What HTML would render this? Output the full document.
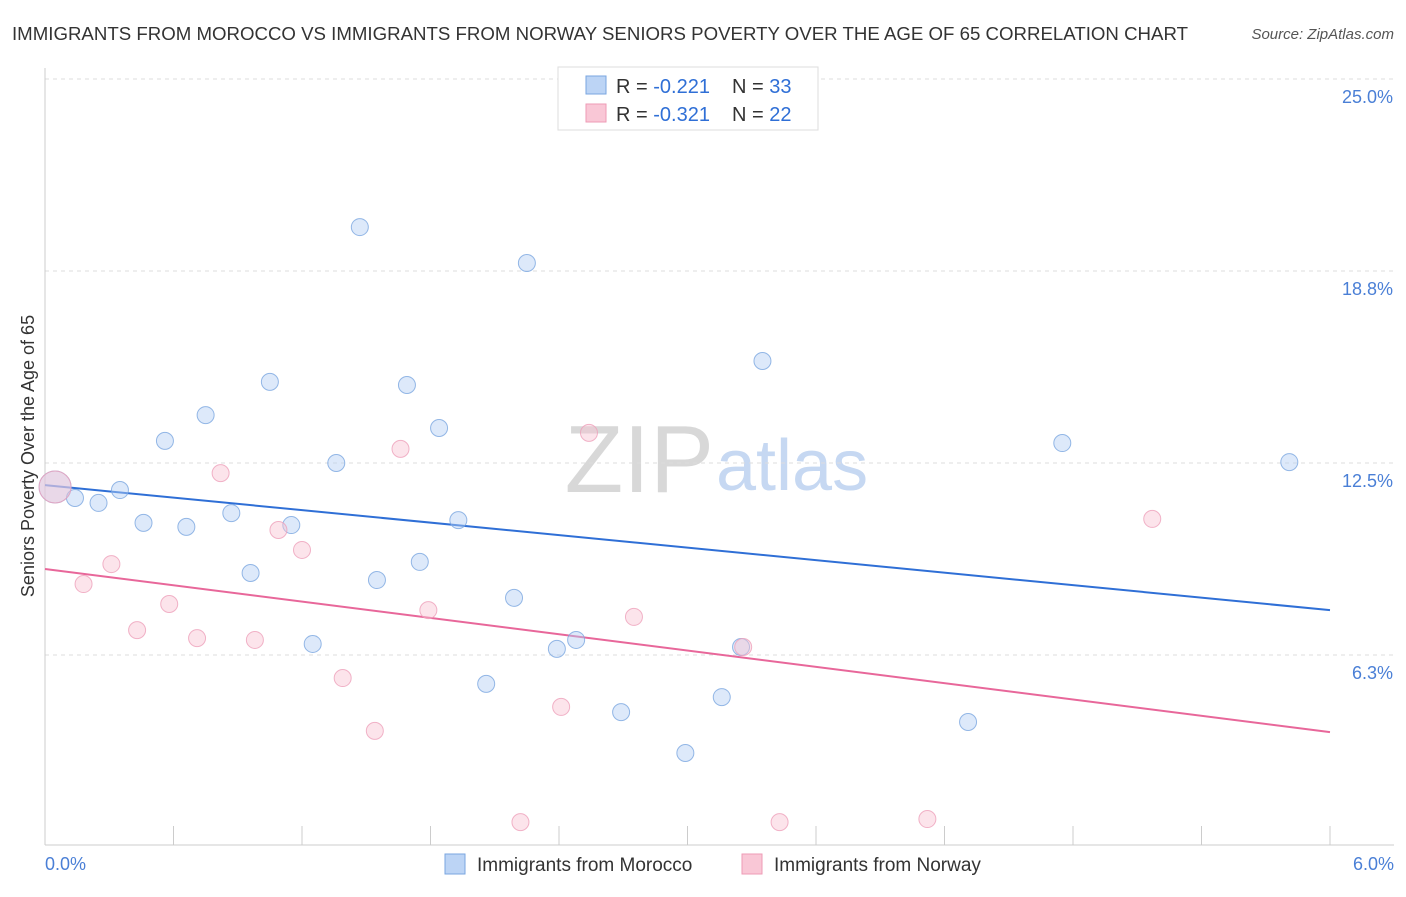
<!DOCTYPE html>
<html><head><meta charset="utf-8"><style>
body{margin:0;background:#fff;font-family:"Liberation Sans",sans-serif;}
svg text{font-family:"Liberation Sans",sans-serif;}
</style></head><body>
<svg width="1406" height="892" viewBox="0 0 1406 892">
<text x="12" y="40" font-size="18" fill="#333" textLength="1176" lengthAdjust="spacingAndGlyphs">IMMIGRANTS FROM MOROCCO VS IMMIGRANTS FROM NORWAY SENIORS POVERTY OVER THE AGE OF 65 CORRELATION CHART</text>
<text x="1394" y="39" font-size="15" fill="#555" font-style="italic" text-anchor="end">Source: ZipAtlas.com</text>
<text x="714" y="492" font-size="96" fill="#d8d8d8" text-anchor="end" font-family="Liberation Serif">ZIP</text>
<text x="716" y="490" font-size="72" fill="#c6d8f2">atlas</text>
<g id="grid"></g><g id="axes"></g><g id="lines"></g><g id="pts"></g>
<text transform="translate(34,456) rotate(-90)" font-size="18" fill="#333" text-anchor="middle">Seniors Poverty Over the Age of 65</text>
<text x="45" y="870" font-size="18" fill="#4a7fd6">0.0%</text>
<text x="1394" y="870" font-size="18" fill="#4a7fd6" text-anchor="end">6.0%</text>
<g>
<rect x="558" y="67" width="260" height="63" fill="#fff" stroke="#ddd"/>
<rect x="586" y="76" width="20" height="18" fill="#bcd4f5" stroke="#7aa6e0"/>
<rect x="586" y="104" width="20" height="18" fill="#f9c7d6" stroke="#ee9bb6"/>
<text x="616" y="93" font-size="20" fill="#333">R = <tspan fill="#2f6fd6">-0.221</tspan><tspan x="732">N = </tspan><tspan fill="#2f6fd6">33</tspan></text>
<text x="616" y="121" font-size="20" fill="#333">R = <tspan fill="#2f6fd6">-0.321</tspan><tspan x="732">N = </tspan><tspan fill="#2f6fd6">22</tspan></text>
</g>
<g><rect x="445" y="854" width="20" height="20" fill="#bcd4f5" stroke="#7aa6e0"/><text x="477" y="871" font-size="19" fill="#333">Immigrants from Morocco</text></g>
<g><rect x="742" y="854" width="20" height="20" fill="#f9c7d6" stroke="#ee9bb6"/><text x="774" y="871" font-size="19" fill="#333">Immigrants from Norway</text></g>
</svg>
<script>
const yTicks=[6.25,12.5,18.75,25];
const yTickLabels=["6.3%","12.5%","18.8%","25.0%"];
const xTicks=[0,0.6,1.2,1.8,2.4,3.0,3.6,4.2,4.8,5.4,6.0];
const moroccoX=[0.047,0.14,0.25,0.35,0.46,0.56,0.66,0.75,0.87,0.96,1.05,1.15,1.25,1.36,1.47,1.55,1.69,1.75,1.84,1.93,2.06,2.19,2.25,2.39,2.48,2.69,2.99,3.16,3.25,3.35,4.31,4.75,5.81];
const moroccoY=[11.72,11.36,11.2,11.62,10.55,13.22,10.42,14.06,10.87,8.92,15.14,10.48,6.61,12.5,20.18,8.69,15.04,9.28,13.64,10.64,5.31,8.11,19.01,6.45,6.74,4.39,3.06,4.88,6.51,15.82,4.07,13.15,12.53];
const norwayX=[0.047,0.18,0.31,0.43,0.58,0.71,0.82,0.98,1.09,1.2,1.39,1.54,1.66,1.79,2.22,2.41,2.54,2.75,3.26,3.43,4.12,5.17];
const norwayY=[11.72,8.56,9.21,7.06,7.91,6.8,12.17,6.74,10.32,9.67,5.5,3.78,12.96,7.71,0.81,4.56,13.48,7.49,6.51,0.81,0.91,10.68];
const moroccoTrend=[11.78,7.71];
const norwayTrend=[9.05,3.74];
const NS="http://www.w3.org/2000/svg";
const X=v=>45+v/6*1285, Y=v=>847-v/6.25*192;
function mk(parent,tag,attrs){const e=document.createElementNS(NS,tag);for(const k in attrs)e.setAttribute(k,attrs[k]);document.getElementById(parent).appendChild(e);return e;}
yTicks.forEach((t,i)=>{
 const g=mk('grid','line',{x1:45,x2:1394,y1:Y(t),y2:Y(t),stroke:'#ddd','stroke-dasharray':'4,4'});
 
 
 const l=mk('grid','text',{x:1393,y:Y(t)+24,'font-size':18,fill:'#4a7fd6','text-anchor':'end'});
 l.textContent=yTickLabels[i];
 
 
});
const ya=mk('axes','line',{x1:45,x2:45,y1:68,y2:845,stroke:'#ccc'});


const xa=mk('axes','line',{x1:45,x2:1394,y1:845,y2:845,stroke:'#ccc'});


xTicks.forEach(t=>{
 const k=mk('axes','line',{x1:X(t),x2:X(t),y1:826,y2:845,stroke:'#ccc'});
 
 
});
function pts(xs,ys,fill,stroke,name){
 xs.forEach((x,i)=>{
  const c=mk('pts','circle',{cx:X(x),cy:Y(ys[i]),r:i===0?16:8.5,fill:fill,'fill-opacity':0.45,stroke:stroke,'stroke-width':1,'stroke-opacity':0.8});
  
  
 });
}
pts(moroccoX,moroccoY,'#b3cff3','#7aa6e0','morocco-point');
pts(norwayX,norwayY,'#f8c3d3','#eea0ba','norway-point');
const l1=mk('lines','line',{x1:X(0),x2:X(6),y1:Y(moroccoTrend[0]),y2:Y(moroccoTrend[1]),stroke:'#2f6fd6','stroke-width':2});


const l2=mk('lines','line',{x1:X(0),x2:X(6),y1:Y(norwayTrend[0]),y2:Y(norwayTrend[1]),stroke:'#e8679a','stroke-width':2});


</script>
</body></html>
